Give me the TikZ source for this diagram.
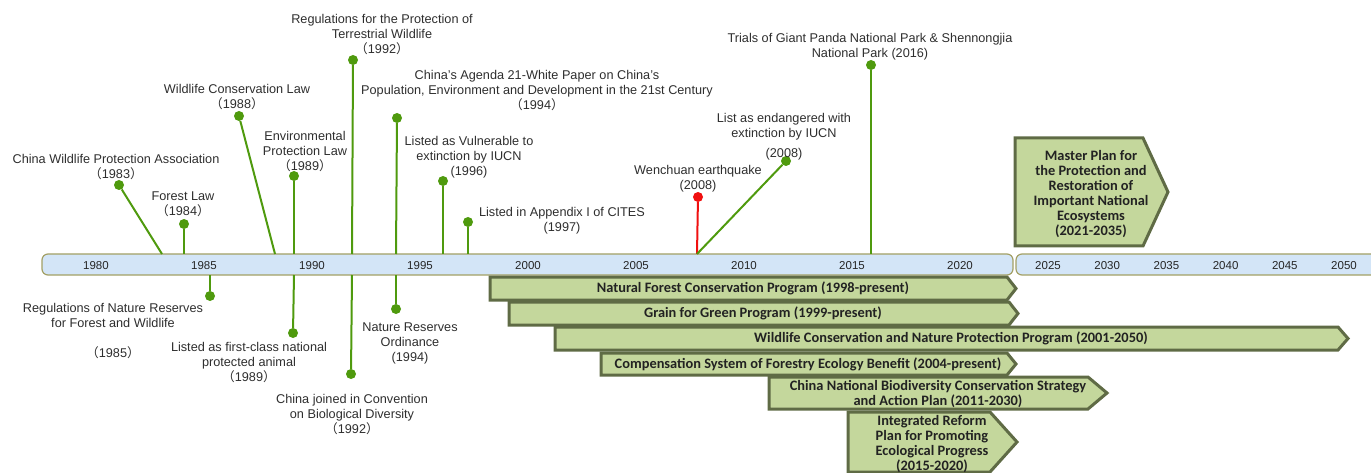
\documentclass[tikz,border=0pt]{standalone}
\usepackage{fontspec}
\setmainfont{Liberation Sans}
\newfontfamily\barfont{Carlito}
\newfontfamily\cjkfont{Noto Sans CJK SC}
\usepackage{tikz}
\definecolor{stemgreen}{HTML}{4F9A0E}
\definecolor{quakered}{HTML}{F01010}
\definecolor{evtgray}{HTML}{2E2E2E}
\definecolor{yrgray}{HTML}{262626}
\definecolor{axisfill}{HTML}{D3E5F7}
\definecolor{axisline}{HTML}{A3A065}
\definecolor{progfill}{HTML}{C4D79C}
\definecolor{progline}{HTML}{5F6B45}
\definecolor{progtext}{HTML}{222222}
\newcommand{\fwyear}[1]{{\cjkfont （}#1{\cjkfont ）}}

\begin{document}
\begin{tikzpicture}[x=1pt, y=-1pt,
    evt/.style={align=center, inner sep=0pt, anchor=north, text=evtgray,
                font=\fontsize{12.7}{15}\selectfont},
    evdot/.style={circle, fill=stemgreen, inner sep=0pt, minimum size=10pt},
    stemline/.style={stemgreen, line width=2pt},
    yr/.style={inner sep=0pt, text=yrgray, font=\fontsize{11.5}{13}\selectfont},
    axisbar/.style={draw=axisline, fill=axisfill, line width=1.2pt,
                    rounded corners=6pt, inner sep=0pt, minimum height=21pt},
    prog/.style={draw=progline, fill=progfill, line width=3pt, line join=miter},
    progtxt/.style={align=center, inner sep=0pt, text=progtext,
                    font=\barfont\bfseries\fontsize{14.4}{15}\selectfont}
]
\useasboundingbox (0,0) rectangle (1371,473);

% time axis
\node[axisbar, minimum width=971pt] (axisA) at (527.5,264.5) {};
\node[axisbar, minimum width=384pt] (axisB) at (1208,264.5) {};
\foreach \y in {1980,1985,...,2020}
    \node[yr] (yr\y) at ({96+21.6*(\y-1980)},266) {\y};
\foreach \y in {2025,2030,...,2050}
    \node[yr] (yr\y) at ({1048+11.84*(\y-2025)},266) {\y};

% points on the axis
\coordinate (a83) at (162,254);
\coordinate (a84) at (184,254);
\coordinate (a88) at (275,254);
\coordinate (a89) at (294,254);
\coordinate (a92) at (352,254);
\coordinate (a94) at (396,254);
\coordinate (a96) at (443,254);
\coordinate (a97) at (468,254);
\coordinate (a08) at (697,254);
\coordinate (a16) at (871,254);
\coordinate (u85) at (210,275);
\coordinate (u89) at (294,275);
\coordinate (u92) at (352,275);
\coordinate (u94) at (396,275);

% events above
\node[evdot] (d83) at (119,185) {};
\node[evdot] (d84) at (184,224) {};
\node[evdot] (d88) at (239,116) {};
\node[evdot] (d89) at (294,176) {};
\node[evdot] (d92) at (353,60) {};
\node[evdot] (d94) at (397,118) {};
\node[evdot] (d96) at (443,181) {};
\node[evdot] (d97) at (468,222) {};
\node[evdot, fill=quakered] (dquake) at (698,197) {};
\node[evdot] (d08) at (786,161) {};
\node[evdot] (d16) at (871,65) {};

% events below
\node[evdot] (e85) at (210,296) {};
\node[evdot] (e89) at (293,333) {};
\node[evdot] (e92) at (351,374) {};
\node[evdot] (e94) at (396,309) {};

\draw[stemline] (a83) -- (d83);
\draw[stemline] (a84) -- (d84);
\draw[stemline] (a88) -- (d88);
\draw[stemline] (a89) -- (d89);
\draw[stemline] (a92) -- (d92);
\draw[stemline] (a94) -- (d94);
\draw[stemline] (a96) -- (d96);
\draw[stemline] (a97) -- (d97);
\draw[stemline, quakered] (a08) -- (dquake);
\draw[stemline] (a08) -- (d08);
\draw[stemline] (a16) -- (d16);
\draw[stemline] (u85) -- (e85);
\draw[stemline] (u89) -- (e89);
\draw[stemline] (u92) -- (e92);
\draw[stemline] (u94) -- (e94);

% labels
\node[evt] (t83) at (116,154) {China Wildlife Protection Association\\\fwyear{1983}};
\node[evt] (t84) at (183,192) {Forest Law\\\fwyear{1984}};
\node[evt] (t88) at (237,84) {Wildlife Conservation Law\\\fwyear{1988}};
\node[evt] (t89) at (305,131) {Environmental\\Protection Law\\\fwyear{1989}};
\node[evt] (t92) at (382,14) {Regulations for the Protection of\\Terrestrial Wildlife\\\fwyear{1992}};
\node[evt] (t94) at (537,70) {China's Agenda 21-White Paper on China's\\Population, Environment and Development in the 21st Century\\\fwyear{1994}};
\node[evt] (t96) at (469,136) {Listed as Vulnerable to\\extinction by IUCN\\(1996)};
\node[evt] (t97) at (562,207) {Listed in Appendix I of CITES\\(1997)};
\node[evt] (tquake) at (698,165) {Wenchuan earthquake\\(2008)};
\node[evt] (t08) at (784,113) {List as endangered with\\extinction by IUCN\\[5pt](2008)};
\node[evt] (t16) at (870,33) {Trials of Giant Panda National Park \& Shennongjia\\National Park (2016)};
\node[evt] (b85) at (113,303) {Regulations of Nature Reserves\\for Forest and Wildlife\\[15pt]\fwyear{1985}};
\node[evt] (b89) at (249,342) {Listed as first-class national\\protected animal\\\fwyear{1989}};
\node[evt] (b92) at (352,394) {China joined in Convention\\on Biological Diversity\\\fwyear{1992}};
\node[evt] (b94) at (410,323) {Nature Reserves\\Ordinance\\(1994)};

% programs
\draw[prog] (490,277) -- (1007,277) -- (1016,288.5) -- (1007,300) -- (490,300) -- cycle;
\node[progtxt] (nfcp) at (753,288.5) {Natural Forest Conservation Program (1998-present)};
\draw[prog] (509,302) -- (1009,302) -- (1018,313.5) -- (1009,325) -- (509,325) -- cycle;
\node[progtxt] (ggp) at (763,313.5) {Grain for Green Program (1999-present)};
\draw[prog] (555,327) -- (1338,327) -- (1348,338.5) -- (1338,350) -- (555,350) -- cycle;
\node[progtxt] (wcnp) at (951,338.5) {Wildlife Conservation and Nature Protection Program (2001-2050)};
\draw[prog] (601,353) -- (1007,353) -- (1016,364) -- (1007,375) -- (601,375) -- cycle;
\node[progtxt] (csfe) at (808,364) {Compensation System of Forestry Ecology Benefit (2004-present)};
\draw[prog] (769,377) -- (1088,377) -- (1107,393) -- (1088,409) -- (769,409) -- cycle;
\node[progtxt] (cnbs) at (938,394) {China National Biodiversity Conservation Strategy\\and Action Plan (2011-2030)};
\draw[prog] (848,412) -- (990,412) -- (1017,442) -- (990,472) -- (848,472) -- cycle;
\node[progtxt] (irpe) at (932,444) {Integrated Reform\\Plan for Promoting\\Ecological Progress\\(2015-2020)};
\draw[prog] (1015,138) -- (1143,138) -- (1168,192) -- (1143,246) -- (1015,246) -- cycle;
\node[progtxt] (mprn) at (1091,194) {Master Plan for\\the Protection and\\Restoration of\\Important National\\Ecosystems\\(2021-2035)};
\end{tikzpicture}
\end{document}
